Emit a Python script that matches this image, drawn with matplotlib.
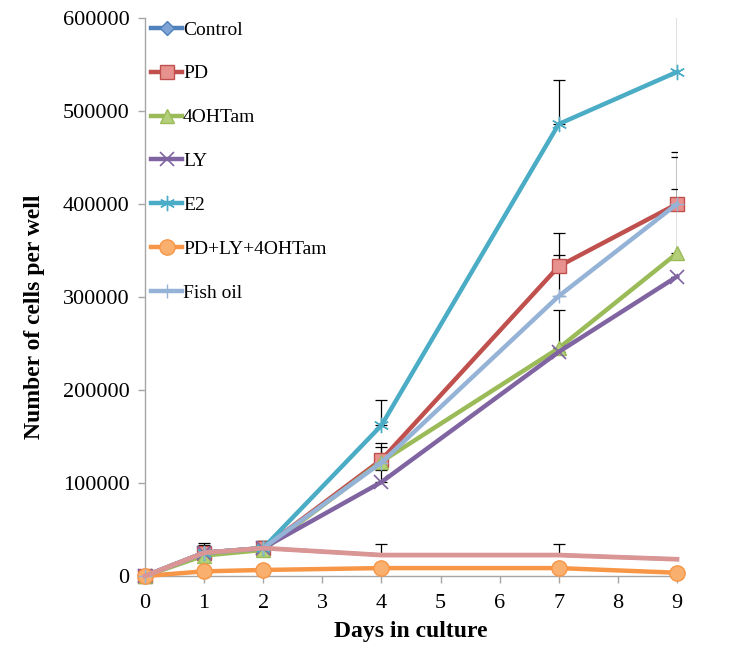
import matplotlib
matplotlib.use("Agg")
import matplotlib.pyplot as plt
from matplotlib.lines import Line2D
import numpy as np

days = [0, 1, 2, 4, 7, 9]
series_names = ["Control", "PD", "4OHTam", "LY", "E2", "PD+LY+4OHTam", "Fish oil"]
control = [0, 25000, 30000, 22500, 22500, 18000]
pd_vals = [0, 25000, 30000, 125000, 333000, 400000]
ohtam = [0, 22000, 28000, 123000, 245000, 347000]
ly = [0, 25000, 30000, 101000, 241000, 322000]
e2 = [0, 25000, 30000, 162000, 486000, 542000]
combo = [0, 5000, 6500, 8500, 8500, 3500]
fish = [0, 25000, 30000, 122000, 301000, 400000]
unlisted = [0, 25000, 30000, 22500, 22500, 18000]

err_control = [0, 0, 0, 0, 0, 0]
err_pd = [0, 8000, 8000, 18000, 36000, 56000]
err_ohtam = [0, 0, 0, 0, 41000, 69000]
err_ly = [0, 0, 0, 13000, 0, 0]
err_e2 = [0, 0, 8000, 27000, 47000, 80000]
err_combo = [0, 0, 0, 2500, 2500, 0]
err_fish = [0, 0, 0, 17000, 44000, 51000]
err_unlisted = [0, 10000, 0, 12000, 12000, 0]

yticks = [0, 100000, 200000, 300000, 400000, 500000, 600000]
xticks = list(range(10))

styles = [
    dict(color="#4F81BD", marker="D", mfc="#7FA3D4", mec="#4F81BD", ms=7),
    dict(color="#C0504D", marker="s", mfc="#E8928F", mec="#C0504D", ms=10),
    dict(color="#9BBB59", marker="^", mfc="#B3CF7A", mec="#9BBB59", ms=10),
    dict(color="#8064A2", marker="x", mfc="#8064A2", mec="#8064A2", ms=10, mew=1.2),
    dict(color="#4BACC6", marker=(6, 2, 0), mfc="#4BACC6", mec="#4BACC6", ms=11, mew=1.0),
    dict(color="#F79646", marker="o", mfc="#F9B06F", mec="#F79646", ms=11),
    dict(color="#95B3D7", marker="+", mfc="#95B3D7", mec="#95B3D7", ms=10, mew=1.0),
]
datas = [control, pd_vals, ohtam, ly, e2, combo, fish]
errs = [err_control, err_pd, err_ohtam, err_ly, err_e2, err_combo, err_fish]

serif = ["Liberation Serif", "DejaVu Serif"]
fig = plt.figure(figsize=(7.46, 6.61), dpi=100)
ax = fig.add_axes([145/746, 1-576/661, (677-145)/746, (576-18)/661])

handles = []
for i, (name, d, e, st) in enumerate(zip(series_names, datas, errs, styles)):
    e = np.array(e)
    if e.any():
        ax.errorbar(days, d, yerr=[np.zeros_like(e), e], fmt="none", ecolor="black",
                    elinewidth=0.9, capsize=4, capthick=0.9, zorder=2)
    if i == 0:
        # Control is hidden beneath the other series in the reference
        ax.plot(days, d, lw=2.6, color=st["color"], clip_on=False, zorder=1)
    else:
        ax.plot(days, d, lw=3.2, clip_on=False, zorder=3, **st)
    handles.append(Line2D([], [], lw=3.2, **st))

ax.errorbar(days, unlisted, yerr=[np.zeros(6), err_unlisted], fmt="none", ecolor="black",
            elinewidth=0.9, capsize=4, capthick=0.9, zorder=2)
ax.plot(days, unlisted, color="#D99694", lw=3.4, clip_on=False, zorder=4)

ax.set_xlim(0, 9)
ax.set_ylim(0, 600000)
ax.set_xticks(xticks)
ax.set_yticks(yticks)
ax.set_xticklabels([str(t) for t in xticks], fontfamily=serif, fontsize=16)
ax.set_yticklabels([str(t) for t in yticks], fontfamily=serif, fontsize=16)
for s in ["top", "right"]:
    ax.spines[s].set_visible(False)
for s in ["left", "bottom"]:
    ax.spines[s].set_color("#A6A6A6")
    ax.spines[s].set_linewidth(1.0)
ax.tick_params(axis="both", direction="out", length=5, color="#A6A6A6", width=1.0)
ax.tick_params(axis="x", pad=8)
ax.tick_params(axis="y", pad=6)

ax.set_xlabel("Days in culture", fontfamily=serif, fontsize=17, fontweight="bold", labelpad=6)
ax.set_ylabel("Number of cells per well", fontfamily=serif, fontsize=17, fontweight="bold")
ax.yaxis.set_label_coords((45-145)/532, (576-317)/558)

leg = ax.legend(handles, series_names, loc="upper left", bbox_to_anchor=(151/746, 1-21/661),
                bbox_transform=fig.transFigure,
                frameon=False, prop={"family": serif, "size": 14}, labelspacing=1.35,
                handlelength=1.6, handletextpad=0.05, borderpad=0, borderaxespad=0, numpoints=1)
leg.set_zorder(10)

fig.savefig("out.png", dpi=100)
